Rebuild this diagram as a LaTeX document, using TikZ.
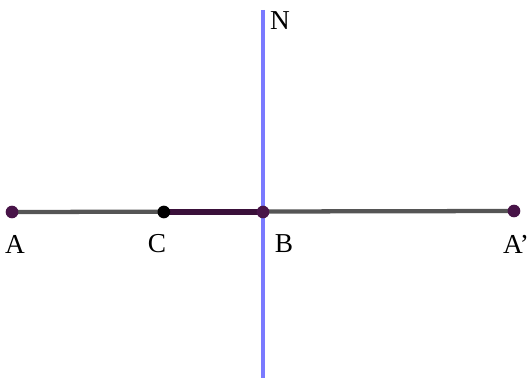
\documentclass[tikz,border=0pt]{standalone}
\usepackage{fontspec}
\setmainfont{Liberation Serif}
\usepackage{tikz}
\usetikzlibrary{calc}
\definecolor{ptcol}{RGB}{72,20,72}
\definecolor{segcol}{RGB}{58,16,58}
\definecolor{axcol}{RGB}{122,122,255}
\definecolor{lncol}{RGB}{85,85,85}

\begin{document}
\begin{tikzpicture}[x=0.75pt,y=-0.75pt,
    pt/.style={circle,fill=ptcol,inner sep=0pt,minimum size=9.5pt},
    lbl/.style={font=\fontsize{20.5}{22}\selectfont,inner sep=0pt}]
            \useasboundingbox (0,0) rectangle (529,378);
            \coordinate (A) at (12,212);
            \coordinate (B) at (263,212);
            \coordinate (Ap) at (514,211);
            \coordinate (C) at ($(A)!0.605!(B)$);
            \coordinate (Nt) at (263,10);
            \coordinate (Nb) at (263,378);
            \draw[axcol,line width=3.2pt] (Nt) -- (Nb);
            \draw[lncol,line width=3.2pt] (A) -- (Ap);
            \draw[segcol,line width=3.8pt] (C) -- (B);
            \node[pt] (pA) at (A) {};
            \node[pt] (pB) at (B) {};
            \node[pt] (pAp) at (Ap) {};
            \node[pt,fill=black] (pC) at (C) {};
            \node[lbl] (lA) at (15,244) {A};
            \node[lbl] (lC) at (157,244) {C};
            \node[lbl] (lB) at (284,244) {B};
            \node[lbl] (lAp) at (516,244) {A’};
            \node[lbl] (lN) at (280,21) {N};
        \end{tikzpicture}
\end{document}
